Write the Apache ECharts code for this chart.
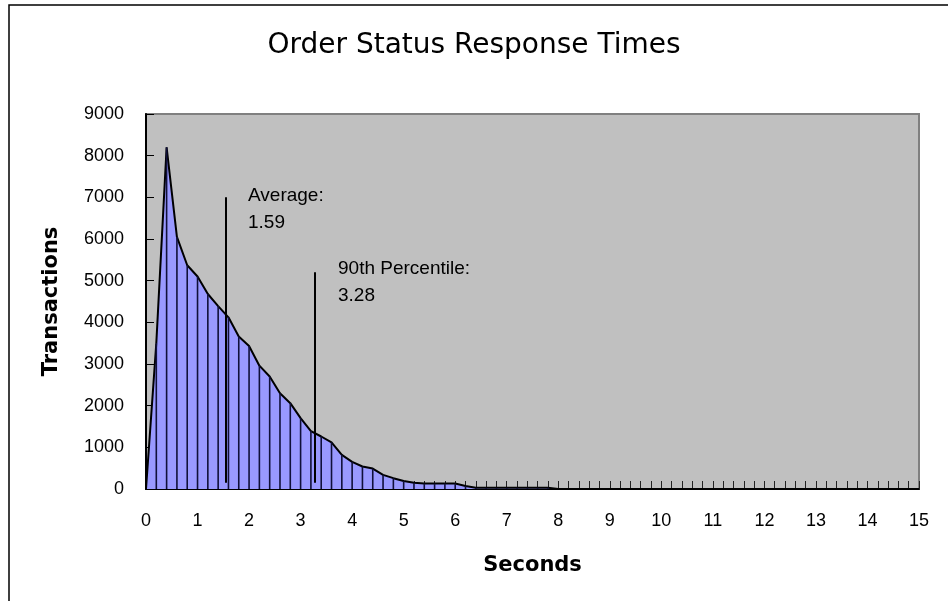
<!DOCTYPE html>
<html>
<head>
<meta charset="utf-8">
<title>Order Status Response Times</title>
<script src="https://cdn.jsdelivr.net/npm/echarts@6/dist/echarts.min.js"></script>
<style>
  html, body { margin: 0; padding: 0; background: #fff; }
  #chart { width: 948px; height: 601px; }
</style>
</head>
<body>
<div id="chart"></div>
<script>
// response time buckets, 0.2 s apart
var seconds = [0, 0.2, 0.4, 0.6, 0.8, 1.0, 1.2, 1.4, 1.6, 1.8,
  2.0, 2.2, 2.4, 2.6, 2.8, 3.0, 3.2, 3.4, 3.6, 3.8,
  4.0, 4.2, 4.4, 4.6, 4.8, 5.0, 5.2, 5.4, 5.6, 5.8,
  6.0, 6.2, 6.4, 6.6, 6.8, 7.0, 7.2, 7.4, 7.6, 7.8,
  8.0, 8.2, 8.4, 8.6, 8.8, 9.0, 9.2, 9.4, 9.6, 9.8,
  10.0, 10.2, 10.4, 10.6, 10.8, 11.0, 11.2, 11.4, 11.6, 11.8,
  12.0, 12.2, 12.4, 12.6, 12.8, 13.0, 13.2, 13.4, 13.6, 13.8,
  14.0, 14.2, 14.4, 14.6, 14.8, 15.0];
var transactions = [0, 3500, 8200, 6050, 5370, 5100, 4680, 4390, 4120, 3660,
  3430, 2960, 2700, 2300, 2060, 1700, 1390, 1260, 1120, 820,
  650, 540, 490, 340, 260, 190, 150, 130, 130, 130,
  130, 70, 30, 30, 30, 30, 30, 30, 30, 30,
  0, 0, 0, 0, 0, 0, 0, 0, 0, 0,
  0, 0, 0, 0, 0, 0, 0, 0, 0, 0,
  0, 0, 0, 0, 0, 0, 0, 0, 0, 0,
  0, 0, 0, 0, 0, 0];

// marker lines: [x, top, bottom]
var averageLine = [1.55, 7000, 150];
var percentileLine = [3.28, 5200, 150];
var averageText = ['Average:', '1.59'];
var percentileText = ['90th Percentile:', '3.28'];

var pairs = [];
for (var i = 0; i < seconds.length; i++) {
	pairs.push([seconds[i], transactions[i]]);
}

var labelFont = '"Liberation Sans", Arial, sans-serif';

var option = {
	animation: false,
	backgroundColor: '#fff',
	title: {
		text: 'Order Status Response Times',
		left: 'center',
		top: 27,
		textStyle: {
			fontFamily: '"DejaVu Sans", sans-serif',
			fontWeight: 'normal',
			fontSize: 28,
			color: '#000'
		}
	},
	grid: {
		left: 146,
		right: 29,
		top: 114,
		bottom: 112,
		show: true,
		backgroundColor: '#C0C0C0',
		borderColor: '#808080',
		borderWidth: 2
	},
	xAxis: {
		type: 'value',
		min: 0,
		max: 15,
		interval: 1,
		name: 'Seconds',
		nameLocation: 'middle',
		nameGap: 66,
		nameTextStyle: {
			fontFamily: '"DejaVu Sans", sans-serif',
			fontWeight: 'bold',
			fontSize: 21,
			color: '#000'
		},
		axisLine: { show: true, onZero: false, lineStyle: { color: '#000', width: 2 } },
		axisTick: { show: true, inside: true, length: 8, lineStyle: { color: '#222', width: 1 } },
		minorTick: { show: true, splitNumber: 5, length: 8, lineStyle: { color: '#222', width: 1 } },
		axisLabel: { margin: 23, fontFamily: labelFont, fontSize: 18, color: '#000' },
		splitLine: { show: false }
	},
	yAxis: {
		type: 'value',
		min: 0,
		max: 9000,
		interval: 1000,
		name: 'Transactions',
		nameLocation: 'middle',
		nameGap: 84,
		nameTextStyle: {
			fontFamily: '"DejaVu Sans", sans-serif',
			fontWeight: 'bold',
			fontSize: 21,
			color: '#000'
		},
		axisLine: { show: true, lineStyle: { color: '#000', width: 2 } },
		axisTick: { show: true, inside: true, length: 8, lineStyle: { color: '#000', width: 1 } },
		axisLabel: {
			margin: 22, fontFamily: labelFont, fontSize: 18, color: '#000',
			formatter: function (v) { return String(v); }
		},
		splitLine: { show: false }
	},
	series: [
		{
			name: 'Transactions',
			type: 'line',
			data: pairs,
			symbol: 'none',
			z: 2,
			lineStyle: { color: '#000', width: 2 },
			areaStyle: { color: '#9999FF', opacity: 1 },
			markLine: {
				silent: true,
				symbol: 'none',
				label: { show: false },
				lineStyle: { color: '#000', width: 2, type: 'solid' },
				data: [
					[{ coord: [averageLine[0], averageLine[1]] }, { coord: [averageLine[0], averageLine[2]] }],
					[{ coord: [percentileLine[0], percentileLine[1]] }, { coord: [percentileLine[0], percentileLine[2]] }]
				]
			}
		},
		{
			name: 'drop',
			type: 'bar',
			data: pairs,
			barWidth: 1.6,
			z: 3,
			itemStyle: { color: '#10103a' }
		}
	],
	graphic: [
		{
			type: 'rect',
			shape: { x: 9, y: 5, width: 980, height: 640 },
			style: { fill: 'none', stroke: '#000', lineWidth: 1.5 },
			silent: true
		},
		{
			type: 'text',
			left: 248,
			top: 182,
			style: {
				text: averageText.join('\n'),
				font: '19px ' + labelFont,
				lineHeight: 27,
				fill: '#000'
			}
		},
		{
			type: 'text',
			left: 338,
			top: 255,
			style: {
				text: percentileText.join('\n'),
				font: '19px ' + labelFont,
				lineHeight: 27,
				fill: '#000'
			}
		}
	]
};

var myChart = echarts.init(document.getElementById('chart'));
myChart.setOption(option, true);
</script>
</body>
</html>
